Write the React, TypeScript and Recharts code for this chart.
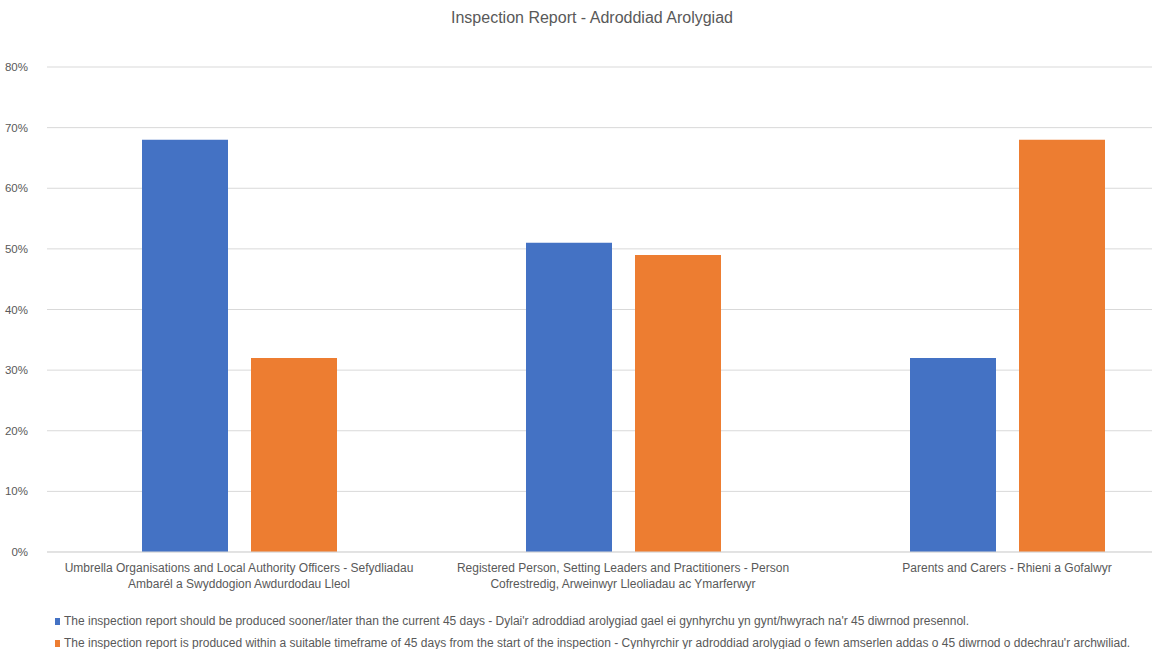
import React from 'react'
import { Bar, BarChart, CartesianGrid, XAxis, YAxis } from 'recharts'

const categories = [
  'Umbrella Organisations and Local Authority Officers - Sefydliadau\nAmbarél a Swyddogion Awdurdodau Lleol',
  'Registered Person, Setting Leaders and Practitioners - Person\nCofrestredig, Arweinwyr Lleoliadau ac Ymarferwyr',
  'Parents and Carers - Rhieni a Gofalwyr',
]
const soonerLater = [0.68, 0.51, 0.32]
const within45 = [0.32, 0.49, 0.68]
const yTicks = [0, 0.1, 0.2, 0.3, 0.4, 0.5, 0.6, 0.7, 0.8]

const seriesNames = [
  "The inspection report should be produced sooner/later than the current 45 days - Dylai'r adroddiad arolygiad gael ei gynhyrchu yn gynt/hwyrach na'r 45 diwrnod presennol.",
  "The inspection report is produced within a suitable timeframe of 45 days from the start of the inspection - Cynhyrchir yr adroddiad arolygiad o fewn amserlen addas o 45 diwrnod o ddechrau'r archwiliad.",
]
const colors = ['#4472C4', '#ED7D31']

const data = categories.map((c, i) => ({ cat: c, a: soonerLater[i], b: within45[i] }))

const FONT = '"Liberation Sans", Arial, sans-serif'
const GREY = '#595959'

function CatTick(props: any) {
  const { x, y, payload } = props
  const lines = String(payload.value).split('\n')
  return (
    <text x={x} y={y + 12} textAnchor="middle" fill={GREY} fontSize={12} fontFamily={FONT}>
      {lines.map((l, i) => (
        <tspan key={i} x={x} dy={i === 0 ? 0 : 16}>
          {l}
        </tspan>
      ))}
    </text>
  )
}

export default function App() {
  return (
    <div
      style={{
        position: 'absolute',
        left: 0,
        top: 0,
        width: 1152,
        height: 649,
        overflow: 'hidden',
        background: '#fff',
        fontFamily: FONT,
      }}
    >
      <div
        style={{
          position: 'absolute',
          top: 9,
          left: 0,
          width: 1184,
          textAlign: 'center',
          fontSize: 16,
          color: GREY,
        }}
      >
        Inspection Report - Adroddiad Arolygiad
      </div>
      <BarChart
        width={1200}
        height={649}
        data={data}
        margin={{ top: 67, right: 1, left: 0, bottom: 57 }}
        barGap={23}
      >
        <CartesianGrid vertical={false} stroke="#d9d9d9" />
        <XAxis
          dataKey="cat"
          height={40}
          tickLine={false}
          axisLine={{ stroke: '#d9d9d9' }}
          tick={<CatTick />}
          interval={0}
        />
        <YAxis
          width={47}
          domain={[0, 0.8]}
          ticks={yTicks}
          tickFormatter={(v: number) => `${Math.round(v * 100)}%`}
          tickLine={false}
          axisLine={false}
          tickMargin={13}
          tick={{ fill: GREY, fontSize: 11.5, fontFamily: FONT }}
        />
        <Bar dataKey="a" name={seriesNames[0]} fill={colors[0]} barSize={86} isAnimationActive={false} />
        <Bar dataKey="b" name={seriesNames[1]} fill={colors[1]} barSize={86} isAnimationActive={false} />
      </BarChart>
      <div style={{ position: 'absolute', left: 55, top: 610, fontSize: 12, color: GREY }}>
        {seriesNames.map((n, i) => (
          <div key={i} style={{ display: 'flex', alignItems: 'center', height: 22, whiteSpace: 'nowrap' }}>
            <span style={{ display: 'inline-block', width: 5, height: 7, background: colors[i], marginRight: 4 }} />
            {n}
          </div>
        ))}
      </div>
    </div>
  )
}
